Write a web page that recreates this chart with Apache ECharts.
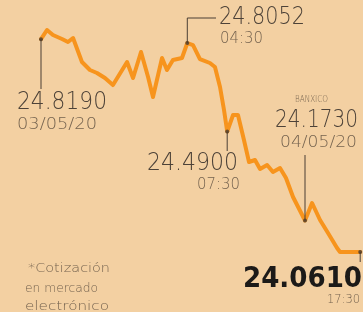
<!DOCTYPE html>
<html><head><meta charset="utf-8">
<script src="https://cdn.jsdelivr.net/npm/echarts@6/dist/echarts.min.js"></script>
<style>html,body{margin:0;padding:0;background:#f3d0a2;}#c{width:363px;height:312px;}</style>
</head><body><div id="c"></div>
<script>
// hours since 17:30 on 03/05/20
var hours = [0,0.45,0.9,1.58,2.03,2.41,3.08,3.68,4.21,4.81,5.41,6.47,6.92,7.52,8.05,8.42,9.10,9.47,9.92,10.6,11,11.43,11.95,12.7,13.08,13.46,13.76,14,14.44,14.81,15.26,15.64,16.09,16.47,17.0,17.44,17.97,18.42,18.95,19.85,20.38,20.98,21.58,22.26,22.48,24];
var values = [24.8190,24.8515,24.8337,24.8194,24.8088,24.8230,24.7375,24.7090,24.6984,24.6806,24.6556,24.7375,24.6806,24.7731,24.6841,24.6129,24.7518,24.7090,24.7447,24.7518,24.8052,24.7980,24.7482,24.7340,24.7197,24.6485,24.5666,24.4900,24.5488,24.5488,24.4598,24.3814,24.3885,24.3565,24.3707,24.3458,24.3600,24.3244,24.2568,24.1730,24.2354,24.1749,24.1285,24.0752,24.0610,24.0610];
var annHours = [0, 11, 14, 19.85, 24];
var annValues = [24.8190, 24.8052, 24.4900, 24.1730, 24.0610];
var annLabels = ['24.8190','24.8052','24.4900','24.1730','24.0610'];
var annSubs = ['03/05/20','04:30','07:30','04/05/20','17:30'];
var sourceLabel = 'BANXICO';
var footnote = ['*Cotización','en mercado','electrónico'];

var chart = echarts.init(document.getElementById('c'), null, {renderer:'canvas'});
var lineData = hours.map(function(h,i){return [h, values[i]];});
var annData = annHours.map(function(h,i){return [h, annValues[i]];});
chart.setOption({
  backgroundColor:'#f3d0a2',
  animation:false,
  grid:{left:41, right:2.8, top:16.4, bottom:42.9},
  xAxis:{type:'value', min:0, max:24, show:false},
  yAxis:{type:'value', min:24.0, max:24.9, show:false},
  series:[
    {type:'line', data:lineData, symbol:'none', lineStyle:{color:'#f7941d', width:4, join:'round', cap:'round'}, z:2},
    {type:'scatter', data:annData, symbolSize:4, itemStyle:{color:'#4a3b2e'}, z:4}
  ]
});
var P = annData.map(function(d){return chart.convertToPixel({gridIndex:0}, d);});
var dark='#4d4238', sub='#75634f', lc='#4a3f35';
var F='"DejaVu Sans", sans-serif';
var ctx = document.createElement('canvas').getContext('2d');
function txt(t,x,y,size,align,color,weight,targetW){
  var font=(weight||'200')+' '+size+'px '+F;
  ctx.font=font;
  var w=ctx.measureText(t).width;
  var sx = targetW ? targetW/w : 1;
  return {type:'text', z:10, x:x, y:y, scaleX:sx, scaleY:1,
    style:{text:t, x:0, y:0, font:font, fill:color, textAlign:align, align:align, textVerticalAlign:'middle', verticalAlign:'middle'}};
}
function ln(pts){return {type:'polyline', z:3, shape:{points:pts}, style:{stroke:lc, lineWidth:1, fill:null}};}
var g = [
  ln([[P[0][0],P[0][1]],[P[0][0],89]]),
  ln([[P[1][0],P[1][1]],[P[1][0],18],[216,18]]),
  ln([[P[2][0],P[2][1]],[P[2][0],151]]),
  ln([[P[3][0],155],[P[3][0],P[3][1]]]),
  ln([[P[4][0],P[4][1]],[P[4][0],262]]),
  txt(annLabels[0],17,102.5,25,'left',dark,'200',90),
  txt(annSubs[0],17,125.5,15,'left',sub,'200',80),
  txt(annLabels[1],219,17,25,'left',dark,'200',86),
  txt(annSubs[1],220,39,15,'left',sub,'200',43),
  txt(annLabels[2],238,163,25,'right',dark,'200',91),
  txt(annSubs[2],240,185,15,'right',sub,'200',43),
  txt(sourceLabel,311.5,100,8,'center',sub,'200',33),
  txt(annLabels[3],358,120,25,'right',dark,'200',83),
  txt(annSubs[3],357,143.5,15,'right',sub,'200',77),
  txt(annLabels[4],362,279.5,29,'right','#1c1a18','bold',119),
  txt(annSubs[4],360,300,12,'right',sub,'200',33),
  txt(footnote[0],28,269,13,'left',sub,'200',82),
  txt(footnote[1],25,289,13,'left',sub,'200',73),
  txt(footnote[2],25,307,13,'left',sub,'200',84)
];
chart.setOption({graphic:{elements:g}});
</script></body></html>
